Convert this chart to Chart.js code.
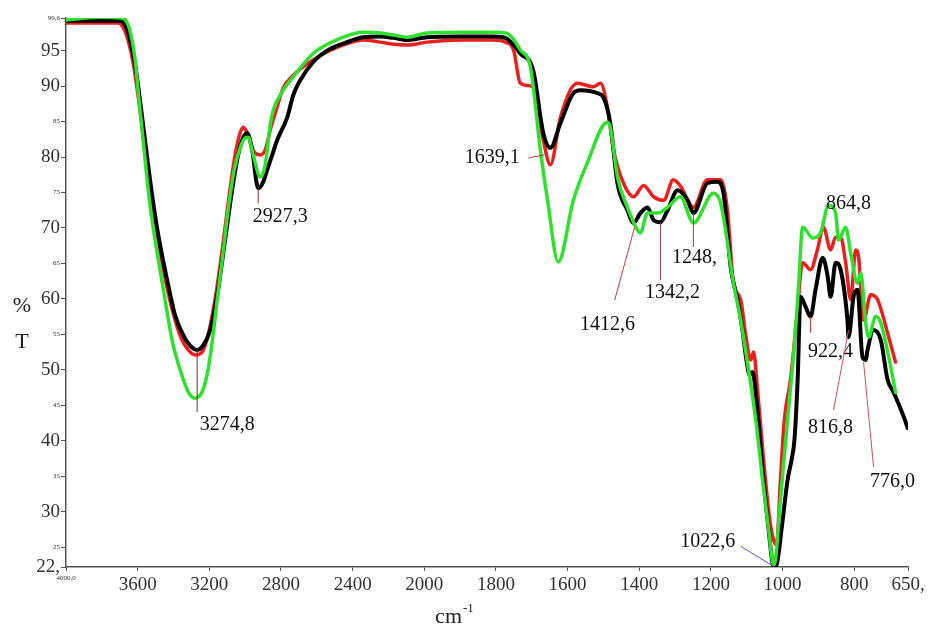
<!DOCTYPE html>
<html>
<head>
<meta charset="utf-8">
<script src="https://cdn.jsdelivr.net/npm/chart.js@4/dist/chart.umd.min.js"></script>
<style>
  html, body { margin: 0; padding: 0; background: #fff; }
  #wrap { width: 941px; height: 628px; position: relative; }
</style>
</head>
<body>
<div id="wrap"><canvas id="irChart"></canvas></div>
<script>
// wavenumbers (cm-1) and %T
const blackWn = [4000, 3810, 3698, 3670, 3642, 3614, 3587, 3559, 3531, 3503, 3475, 3430, 3391, 3346, 3307, 3268, 3235, 3195, 3151, 3112, 3073, 3039, 3011, 2989, 2961, 2927, 2899, 2877, 2849, 2821, 2765, 2732, 2693, 2620, 2536, 2452, 2341, 2246, 2173, 2095, 1992, 1899, 1807, 1774, 1751, 1732, 1696, 1668, 1648, 1620, 1584, 1564, 1517, 1500, 1481, 1461, 1433, 1416, 1397, 1377, 1360, 1341, 1321, 1293, 1265, 1249, 1210, 1182, 1165, 1145, 1126, 1112, 1101, 1092, 1084, 1073, 1056, 1039, 1025, 1017, 1003, 986, 975, 967, 958, 950, 936, 922, 908, 888, 874, 866, 852, 838, 819, 816, 802, 791, 777, 768, 763, 746, 726, 707, 690, 662, 651];
const blackT = [99.2, 99.2, 99.2, 98.6, 96.5, 93.0, 88.0, 82.4, 76.8, 71.8, 67.6, 62.0, 57.7, 54.9, 53.4, 52.8, 53.4, 55.6, 61.3, 68.3, 75.3, 80.3, 82.7, 83.4, 81.0, 75.6, 76.5, 78.2, 80.3, 82.4, 85.6, 88.7, 90.8, 93.4, 95.1, 96.0, 96.9, 97.0, 96.8, 96.5, 96.9, 97.0, 97.0, 96.8, 95.8, 94.6, 92.2, 83.4, 81.3, 84.8, 89.0, 89.4, 89.0, 88.4, 84.8, 76.3, 72.5, 70.7, 72.1, 72.9, 71.1, 70.8, 72.5, 75.3, 73.9, 72.1, 76.3, 76.5, 74.9, 64.5, 59.9, 55.6, 51.4, 49.3, 49.7, 45.8, 35.9, 27.5, 22.3, 22.5, 27.5, 34.5, 37.3, 40.1, 48.6, 60.3, 58.9, 57.5, 61.3, 65.8, 63.1, 60.3, 65.1, 64.1, 57.0, 54.6, 60.3, 61.3, 51.8, 51.4, 52.8, 55.6, 54.2, 48.6, 46.8, 43.4, 41.8];

const redWn = [4000, 3810, 3709, 3682, 3654, 3626, 3598, 3570, 3542, 3514, 3486, 3441, 3402, 3358, 3318, 3279, 3240, 3207, 3168, 3128, 3089, 3056, 3028, 3011, 2983, 2950, 2916, 2888, 2860, 2827, 2788, 2732, 2620, 2452, 2341, 2246, 2173, 2095, 1992, 1899, 1807, 1774, 1751, 1732, 1712, 1696, 1668, 1648, 1620, 1573, 1528, 1508, 1489, 1472, 1444, 1416, 1388, 1360, 1332, 1305, 1285, 1249, 1210, 1173, 1154, 1137, 1117, 1103, 1089, 1081, 1070, 1053, 1036, 1025, 1017, 1006, 995, 978, 961, 944, 922, 903, 886, 866, 852, 838, 824, 810, 796, 788, 774, 754, 735, 707, 685];
const redT = [98.9, 98.9, 98.9, 98.3, 96.5, 93.4, 88.7, 83.1, 77.5, 72.5, 68.3, 62.2, 58.0, 54.5, 52.8, 52.1, 52.5, 54.9, 59.9, 66.9, 74.6, 80.3, 83.4, 84.2, 83.1, 80.7, 80.3, 81.0, 83.8, 86.6, 89.7, 91.5, 93.7, 95.8, 96.5, 96.2, 95.9, 95.8, 96.2, 96.5, 96.5, 96.2, 95.1, 90.4, 90.1, 89.9, 82.4, 78.9, 85.6, 90.4, 89.9, 90.4, 87.0, 81.0, 76.3, 74.4, 76.0, 74.4, 73.9, 76.8, 75.9, 72.9, 76.8, 76.8, 72.5, 62.2, 59.9, 54.9, 51.4, 52.5, 47.2, 37.3, 28.9, 26.0, 25.3, 34.5, 43.0, 48.6, 57.0, 65.1, 64.1, 66.9, 70.1, 66.9, 68.7, 68.7, 65.1, 59.9, 66.9, 65.9, 57.0, 60.6, 59.9, 55.2, 51.1];

const greenWn = [4000, 3894, 3810, 3698, 3665, 3637, 3614, 3598, 3575, 3553, 3531, 3503, 3475, 3447, 3408, 3363, 3318, 3279, 3240, 3207, 3179, 3156, 3128, 3095, 3061, 3028, 3000, 2983, 2955, 2916, 2888, 2860, 2843, 2788, 2732, 2620, 2452, 2341, 2246, 2173, 2095, 1992, 1899, 1807, 1774, 1754, 1732, 1704, 1676, 1656, 1626, 1584, 1545, 1489, 1481, 1461, 1433, 1405, 1397, 1377, 1349, 1321, 1285, 1249, 1193, 1173, 1137, 1117, 1095, 1075, 1056, 1039, 1025, 1020, 1006, 986, 969, 956, 944, 916, 894, 872, 852, 844, 824, 810, 791, 782, 768, 760, 740, 726, 698, 685];
const greenT = [99.3, 99.6, 99.7, 99.6, 99.2, 97.2, 93.7, 89.4, 83.8, 78.2, 73.2, 68.3, 64.1, 59.9, 54.2, 50.0, 46.9, 46.0, 46.9, 50.0, 54.9, 59.9, 65.5, 72.5, 78.2, 81.3, 82.7, 82.8, 80.3, 77.2, 78.9, 84.5, 86.6, 89.4, 91.3, 94.6, 96.9, 97.6, 97.5, 97.2, 96.9, 97.5, 97.6, 97.6, 97.5, 96.8, 95.1, 92.7, 81.0, 73.9, 65.2, 73.9, 79.2, 84.9, 84.2, 77.2, 72.9, 69.7, 69.3, 72.1, 72.1, 72.9, 74.4, 70.7, 74.9, 73.5, 62.2, 57.0, 50.0, 43.0, 34.5, 27.5, 22.5, 23.2, 31.7, 43.0, 52.4, 61.3, 70.1, 68.6, 69.3, 73.2, 72.1, 68.3, 70.1, 66.5, 62.2, 63.7, 56.6, 54.6, 57.5, 56.6, 50.4, 46.8];

const xTicks = [4000, 3600, 3200, 2800, 2400, 2000, 1800, 1600, 1400, 1200, 1000, 800, 650];
const xTickText = ['4000,0', '3600', '3200', '2800', '2400', '2000', '1800', '1600', '1400', '1200', '1000', '800', '650,'];
const yTicks = [22.2, 25, 30, 35, 40, 45, 50, 55, 60, 65, 70, 75, 80, 85, 90, 95, 99.6];
const yTickText = ['22,', '25', '30', '35', '40', '45', '50', '55', '60', '65', '70', '75', '80', '85', '90', '95', '99,6'];
const bigY = [22.2, 30, 40, 50, 60, 70, 80, 90, 95];

// peak labels: wavenumber/%T anchor, then leader line and text offsets in px
const peaks = [
  { text: '3274,8', wn: 3268, t: 52.8, lx: 0, ly: 62, tx: 30, ty: 75, c: '#7a2a2a' },
  { text: '2927,3', wn: 2927, t: 75.6, lx: 0, ly: 15, tx: 22, ty: 29, c: '#9a2a2a' },
  { text: '1639,1', wn: 1665, t: 80.3, lx: -16, ly: 3, tx: -52, ty: 3, c: '#c03a3a' },
  { text: '1412,6', wn: 1413, t: 70.1, lx: -20, ly: 73, tx: -27, ty: 98, c: '#c03a3a' },
  { text: '1342,2', wn: 1341, t: 70.8, lx: 0, ly: 58, tx: 12, ty: 70, c: '#8a3a3a' },
  { text: '1248,', wn: 1249, t: 72.1, lx: 0, ly: 34, tx: 1, ty: 45, c: '#c03a3a' },
  { text: '1022,6', wn: 1025, t: 22.3, lx: -33, ly: -20, tx: -66, ty: -25, c: '#5a5aa8' },
  { text: '922,4', wn: 922, t: 57.5, lx: 0, ly: 16, tx: 20, ty: 35, c: '#c03a3a' },
  { text: '864,8', wn: 872, t: 73.2, lx: 0, ly: 0, tx: 20, ty: -2, c: '#c03a3a' },
  { text: '816,8', wn: 816, t: 55.6, lx: -15, ly: 80, tx: -18, ty: 98, c: '#d05050' },
  { text: '776,0', wn: 774, t: 51.1, lx: 10, ly: 105, tx: 29, ty: 120, c: '#d05050' }
];

// x axis: 4000-2000 at half the scale of 2000-650
function wnPos(wn) {
  return wn >= 2000 ? (4000 - wn) / 2 : 1000 + (2000 - wn);
}

class SplitScale extends Chart.LinearScale {
  getPixelForValue(v) {
    if (v === null || v === undefined) return NaN;
    return this.getPixelForDecimal(wnPos(v) / wnPos(650));
  }
}
SplitScale.id = 'split';
SplitScale.defaults = Chart.LinearScale.defaults;
Chart.register(SplitScale);

function pts(xs, ys) {
  return xs.map((x, i) => ({ x: x, y: ys[i] }));
}

const serif = 'Liberation Serif, Times New Roman, serif';

const peakPlugin = {
  id: 'peaks',
  afterDraw(chart) {
    const ctx = chart.ctx;
    const xs = chart.scales.x, ys = chart.scales.y;
    ctx.save();
    peaks.forEach(p => {
      const ax = xs.getPixelForValue(p.wn);
      const ay = ys.getPixelForValue(p.t);
      if (p.lx || p.ly) {
        ctx.strokeStyle = p.c;
        ctx.lineWidth = 1;
        ctx.beginPath();
        ctx.moveTo(ax, ay);
        ctx.lineTo(ax + p.lx, ay + p.ly);
        ctx.stroke();
      }
      ctx.fillStyle = '#111';
      ctx.font = '20px ' + serif;
      ctx.textAlign = 'center';
      ctx.textBaseline = 'middle';
      ctx.fillText(p.text, ax + p.tx, ay + p.ty);
    });

    // axis titles
    ctx.fillStyle = '#222';
    ctx.font = '22px ' + serif;
    ctx.textAlign = 'center';
    ctx.fillText('%', 22, 306);
    ctx.fillText('T', 22, 342);
    const cx = (chart.chartArea.left + chart.chartArea.right) / 2 - 35;
    ctx.textAlign = 'right';
    ctx.fillText('cm', cx + 10, 617);
    ctx.font = '13px ' + serif;
    ctx.textAlign = 'left';
    ctx.fillText('-1', cx + 11, 609);
    ctx.restore();
  }
};

new Chart(document.getElementById('irChart'), {
  type: 'line',
  data: {
    datasets: [
      { label: 'green', data: pts(greenWn, greenT), borderColor: '#2fe02f', borderWidth: 3.5, order: 1 },
      { label: 'black', data: pts(blackWn, blackT), borderColor: '#000000', borderWidth: 4, order: 2 },
      { label: 'red', data: pts(redWn, redT), borderColor: '#e8201e', borderWidth: 3.5, order: 3 }
    ]
  },
  options: {
    responsive: true,
    maintainAspectRatio: false,
    animation: false,
    events: [],
    parsing: true,
    elements: {
      point: { radius: 0 },
      line: { cubicInterpolationMode: 'monotone', borderJoinStyle: 'round', borderCapStyle: 'round' }
    },
    layout: { padding: { top: 18, right: 33, left: 0, bottom: 0 } },
    plugins: {
      legend: { display: false },
      tooltip: { enabled: false }
    },
    scales: {
      x: {
        type: 'split',
        min: 650,
        max: 4000,
        afterBuildTicks: s => { s.ticks = xTicks.map(v => ({ value: v })); },
        afterFit: s => { s.height = 61; },
        grid: { drawOnChartArea: false, drawTicks: true, tickLength: 4, color: '#555' },
        border: { display: true, color: '#555', width: 1.5 },
        ticks: {
          autoSkip: false,
          maxRotation: 0,
          padding: 3,
          color: '#333',
          font: c => (c.tick && c.tick.value === 4000) ? { family: serif, size: 7 } : { family: serif, size: 19 },
          callback: (v, i) => xTickText[i]
        }
      },
      y: {
        min: 22.2,
        max: 99.6,
        afterBuildTicks: s => { s.ticks = yTicks.map(v => ({ value: v })); },
        afterFit: s => { s.width = 66; },
        grid: { drawOnChartArea: false, drawTicks: true, tickLength: 5, color: '#555' },
        border: { display: true, color: '#555', width: 1.5 },
        ticks: {
          autoSkip: false,
          padding: 1,
          color: '#333',
          font: c => (c.tick && bigY.includes(c.tick.value)) ? { family: serif, size: 19 } : { family: serif, size: 7 },
          callback: (v, i) => yTickText[i]
        }
      }
    }
  },
  plugins: [peakPlugin]
});
</script>
</body>
</html>
